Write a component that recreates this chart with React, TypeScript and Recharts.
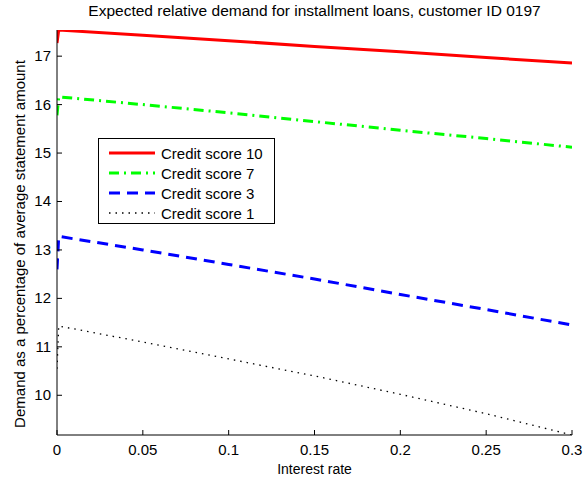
import { LineChart, Line, XAxis, YAxis } from 'recharts'

const FONT = '"Liberation Sans", Arial, sans-serif'

// interest rate (x)
const rates = [0, 0.001, 0.05, 0.1, 0.15, 0.2, 0.25, 0.3]
const score10 = [17.27, 17.54, 17.43, 17.32, 17.2, 17.09, 16.97, 16.86]
const score7 = [15.78, 16.16, 16.0, 15.83, 15.65, 15.47, 15.3, 15.12]
const score3 = [12.6, 13.28, 13.0, 12.7, 12.4, 12.08, 11.77, 11.45]
const score1 = [10.55, 11.43, 11.1, 10.75, 10.4, 10.02, 9.62, 9.18]

const xTicks = [0, 0.05, 0.1, 0.15, 0.2, 0.25, 0.3]
const yTicks = [10, 11, 12, 13, 14, 15, 16, 17]

const series = [
  { key: 's10', name: 'Credit score 10', values: score10, color: '#ff0000', width: 3, dash: undefined },
  { key: 's7', name: 'Credit score 7', values: score7, color: '#00ff00', width: 3, dash: '10 5 2 5' },
  { key: 's3', name: 'Credit score 3', values: score3, color: '#0000ff', width: 3, dash: '11 7' },
  { key: 's1', name: 'Credit score 1', values: score1, color: '#000000', width: 1.3, dash: '1.5 5' },
]

const data = rates.map((r, i) => {
  const row: Record<string, number> = { rate: r }
  for (const s of series) row[s.key] = s.values[i]
  return row
})

function XTick({ x, y, payload }: any) {
  return (
    <g>
      <line x1={x} x2={x} y1={y} y2={y - 5} stroke="#000" />
      <text x={x} y={y + 20} textAnchor="middle" fontSize={15} fill="#000" fontFamily={FONT}>
        {String(payload.value)}
      </text>
    </g>
  )
}

function YTick({ x, y, payload }: any) {
  return (
    <g>
      <line x1={x} x2={x + 5} y1={y} y2={y} stroke="#000" />
      <text x={x - 6} y={y + 5} textAnchor="end" fontSize={15} fill="#000" fontFamily={FONT}>
        {String(payload.value)}
      </text>
    </g>
  )
}

export default function App() {
  return (
    <div style={{ position: 'absolute', left: 0, top: 0, width: 584, height: 481, background: '#fff', fontFamily: FONT }}>
      <LineChart width={584} height={481} data={data} margin={{ top: 30, right: 12, left: 17, bottom: 16 }}>
        <XAxis
          dataKey="rate"
          type="number"
          domain={[0, 0.3]}
          ticks={xTicks}
          allowDataOverflow
          tickSize={0}
          tickMargin={0}
          tick={<XTick />}
          height={30}
          axisLine={{ stroke: '#000' }}
        />
        <YAxis
          type="number"
          domain={[9.18, 17.54]}
          ticks={yTicks}
          allowDataOverflow
          tickSize={0}
          tickMargin={0}
          tick={<YTick />}
          width={40}
          axisLine={{ stroke: '#000' }}
        />
        {series.map(s => (
          <Line
            key={s.key}
            type="linear"
            dataKey={s.key}
            stroke={s.color}
            strokeWidth={s.width}
            strokeDasharray={s.dash}
            dot={false}
            isAnimationActive={false}
          />
        ))}
      </LineChart>

      <div style={{ position: 'absolute', left: 0, top: 2, width: 629, textAlign: 'center', fontSize: 15.5, color: '#000' }}>
        Expected relative demand for installment loans, customer ID 0197
      </div>
      <div style={{ position: 'absolute', left: 0, top: 461, width: 629, textAlign: 'center', fontSize: 14, color: '#000' }}>
        Interest rate
      </div>
      <div
        style={{
          position: 'absolute', left: 20 - 250, top: 244 - 9, width: 500, textAlign: 'center',
          fontSize: 15, color: '#000', transform: 'rotate(-90deg)', lineHeight: '18px',
        }}
      >
        Demand as a percentage of average statement amount
      </div>

      <div style={{ position: 'absolute', left: 98, top: 138, width: 177, height: 86, border: '1px solid #000', background: '#fff', boxSizing: 'border-box' }}>
        {series.map((s, i) => (
          <div key={s.key} style={{ position: 'absolute', left: 9, top: 4 + i * 20, height: 20, display: 'flex', alignItems: 'center' }}>
            <svg width={48} height={20}>
              <line x1={1} x2={47} y1={10} y2={10} stroke={s.color} strokeWidth={s.width} strokeDasharray={s.dash} />
            </svg>
            <span style={{ marginLeft: 5, fontSize: 15, whiteSpace: 'nowrap' }}>{s.name}</span>
          </div>
        ))}
      </div>
    </div>
  )
}
